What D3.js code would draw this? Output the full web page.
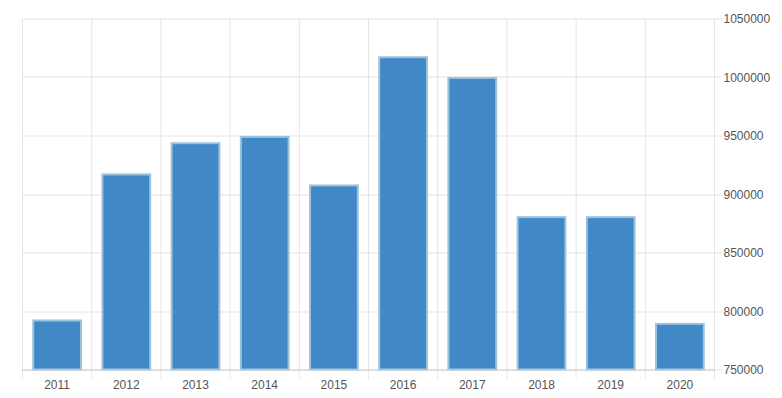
<!DOCTYPE html>
<html>
<head>
<meta charset="utf-8">
<script src="https://cdn.jsdelivr.net/npm/d3@7"></script>
<style>
  body { margin: 0; background: #fff; }
  text { font-family: Arial, "Liberation Sans", sans-serif; font-size: 12px; fill: #555; }
</style>
</head>
<body>
<div id="chart"></div>
<script>
const years = ["2011", "2012", "2013", "2014", "2015", "2016", "2017", "2018", "2019", "2020"];
const values = [791900, 916700, 943400, 948800, 907300, 1016900, 999200, 880200, 880200, 789000];
const yTicks = [750000, 800000, 850000, 900000, 950000, 1000000, 1050000];

const margin = { top: 18.5, right: 67.5, bottom: 28.5, left: 22.5 };
const width = 782 - margin.left - margin.right;
const height = 398 - margin.top - margin.bottom;

const svg = d3
  .select("#chart")
  .append("svg")
  .attr("width", 782)
  .attr("height", 398)
  .append("g")
  .attr("transform", `translate(${margin.left}, ${margin.top})`);

const x = d3
  .scaleBand()
  .domain(years)
  .range([0, width])
  .paddingInner(0.31)
  .paddingOuter(0.155);
const y = d3.scaleLinear().domain([750000, 1050000]).range([height, 0]);

const step = x.step();
const edges = d3.range(years.length + 1).map((i) => i * step);

// vertical grid lines (band edges), with ticks below the axis
svg
  .selectAll(".vgrid")
  .data(edges)
  .join("line")
  .attr("x1", (d) => d)
  .attr("x2", (d) => d)
  .attr("y1", 0)
  .attr("y2", height + 9)
  .attr("stroke", "#e6e6e6")
  .attr("stroke-width", 1);

// horizontal grid lines, extended as ticks on the right
svg
  .selectAll(".hgrid")
  .data(yTicks)
  .join("line")
  .attr("x1", 0)
  .attr("x2", width + 8)
  .attr("y1", (d) => Math.round(y(d)) + 0.5)
  .attr("y2", (d) => Math.round(y(d)) + 0.5)
  .attr("stroke", "#e3e3e3")
  .attr("stroke-width", 1);

// Y axis labels
svg
  .selectAll(".ylab")
  .data(yTicks)
  .join("text")
  .attr("x", width + 9)
  .attr("y", (d) => y(d) + 4.5)
  .text((d) => d);

// Bars
svg
  .selectAll(".bar")
  .data(years.map((yr, i) => ({ year: yr, value: values[i] })))
  .join("rect")
  .attr("x", (d) => x(d.year))
  .attr("y", (d) => y(d.value))
  .attr("width", x.bandwidth())
  .attr("height", (d) => height - y(d.value))
  .attr("fill", "#4088c6")
  .attr("stroke", "#9dc2dd")
  .attr("stroke-width", 2);

// bottom axis line
svg
  .append("line")
  .attr("x1", 0)
  .attr("x2", width)
  .attr("y1", height + 0.5)
  .attr("y2", height + 0.5)
  .attr("stroke", "#cccccc");

// X axis labels
svg
  .selectAll(".xlab")
  .data(years)
  .join("text")
  .attr("x", (d) => x(d) + x.bandwidth() / 2)
  .attr("y", height + 19)
  .attr("text-anchor", "middle")
  .text((d) => d);
</script>
</body>
</html>
